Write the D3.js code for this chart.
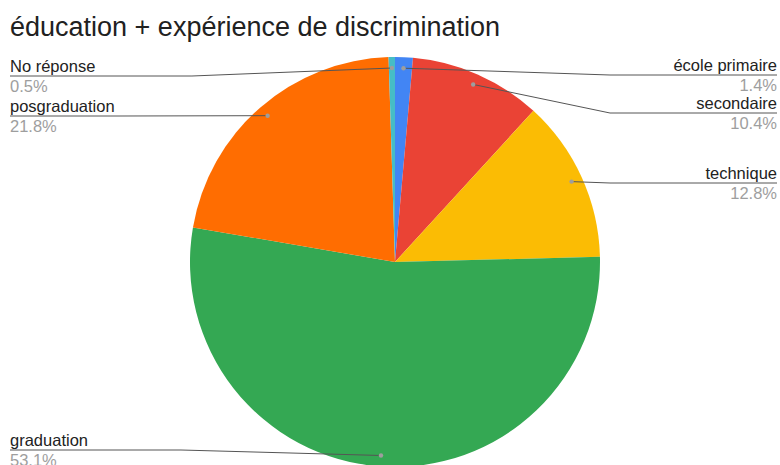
<!DOCTYPE html>
<html>
<head>
<meta charset="utf-8">
<script src="https://cdn.jsdelivr.net/npm/d3@7"></script>
<style>
  body { margin: 0; background: #fff; }
  text { font-family: "Liberation Sans", Arial, sans-serif; }
</style>
</head>
<body>
<div id="chart"></div>
<script>
// categories and values, clockwise from 12 o'clock
const categories = ['école primaire', 'secondaire', 'technique', 'graduation', 'posgraduation', 'No réponse'];
const values = [1.4, 10.4, 12.8, 53.1, 21.8, 0.5];
const colours = ['#4285f4', '#ea4335', '#fbbc04', '#34a853', '#ff6d01', '#46bdc6'];

// label layout: side and y of the leader line under each name
const labelSide = ['right', 'right', 'right', 'left', 'left', 'left'];
const labelLineY = [75, 113, 183, 450, 116, 76];

function createPie() {
    const width = 780, height = 465;
    const cx = 395, cy = 262, radius = 205;

    const svg = d3.select('#chart')
        .append('svg')
        .attr('width', width)
        .attr('height', height);

    svg.append('text')
        .attr('x', 10)
        .attr('y', 36)
        .attr('font-size', 27)
        .attr('fill', '#212121')
        .text('éducation + expérience de discrimination');

    const data = categories.map((c, i) => ({ name: c, value: values[i], colour: colours[i], side: labelSide[i], ly: labelLineY[i] }));

    const pie = d3.pie().sort(null).value(d => d.value);
    const arcs = pie(data);
    const arc = d3.arc().innerRadius(0).outerRadius(radius);
    const dotArc = d3.arc().innerRadius(194).outerRadius(194);

    const g = svg.append('g').attr('transform', `translate(${cx}, ${cy})`);

    g.selectAll('path')
        .data(arcs)
        .enter()
        .append('path')
        .attr('d', arc)
        .attr('fill', d => d.data.colour);

    // leader lines and labels
    const line = d3.line();
    arcs.forEach(a => {
        const c = dotArc.centroid(a);
        const dx = cx + c[0], dy = cy + c[1];
        const d = a.data;
        let pts;
        if (d.side === 'left') {
            const bendX = Math.min(dx, Math.max(120, dx - 200));
            pts = [[10, d.ly], [bendX, d.ly], [dx, dy]];
        } else {
            pts = [[dx, dy], [Math.max(dx, 610), d.ly], [777, d.ly]];
        }
        svg.append('path')
            .attr('d', line(pts))
            .attr('fill', 'none')
            .attr('stroke', '#555')
            .attr('stroke-width', 1);
        svg.append('circle')
            .attr('cx', dx)
            .attr('cy', dy)
            .attr('r', 2.2)
            .attr('fill', '#9e9e9e');

        const tx = d.side === 'left' ? 10 : 777;
        const anchor = d.side === 'left' ? 'start' : 'end';
        svg.append('text')
            .attr('x', tx)
            .attr('y', d.ly - 4)
            .attr('text-anchor', anchor)
            .attr('font-size', 16.5)
            .attr('fill', '#222')
            .text(d.name);
        svg.append('text')
            .attr('x', tx)
            .attr('y', d.ly + 16)
            .attr('text-anchor', anchor)
            .attr('font-size', 16.5)
            .attr('fill', '#9e9e9e')
            .text(d3.format('.1f')(d.value) + '%');
    });
}

createPie();
</script>
</body>
</html>
